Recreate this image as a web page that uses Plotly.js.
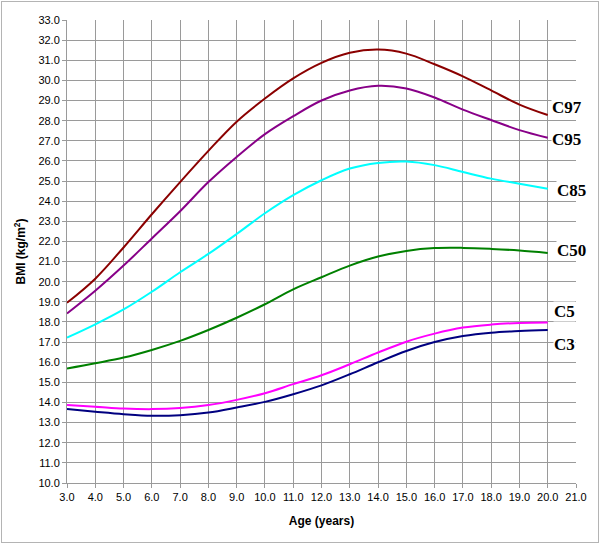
<!DOCTYPE html>
<html>
<head>
<meta charset="utf-8">
<script src="https://cdn.plot.ly/plotly-3.0.1.min.js"></script>
<style>
  body { margin: 0; background: #fff; }
  #wrap { position: relative; width: 600px; height: 544px; }
  #chart { width: 600px; height: 544px; }
  #frame { position: absolute; left: 1px; top: 1px; width: 596px; height: 540px;
           border: 1px solid #b4b4b4; pointer-events: none; }
</style>
</head>
<body>
<div id="wrap">
  <div id="chart"></div>
  <div id="frame"></div>
</div>
<script>
// ages 3..20 in whole years
const ages = [3, 4, 5, 6, 7, 8, 9, 10, 11, 12, 13, 14, 15, 16, 17, 18, 19, 20];

// BMI centiles
const c97 = [18.95, 20.15, 21.7, 23.35, 24.95, 26.5, 27.95, 29.1, 30.1, 30.87, 31.37, 31.53, 31.33, 30.8, 30.2, 29.5, 28.8, 28.28];
const c95 = [18.42, 19.55, 20.8, 22.15, 23.5, 24.95, 26.2, 27.33, 28.22, 29.0, 29.5, 29.73, 29.6, 29.15, 28.55, 28.03, 27.53, 27.15];
const c85 = [17.22, 17.88, 18.62, 19.5, 20.47, 21.38, 22.37, 23.4, 24.3, 25.04, 25.62, 25.9, 25.97, 25.79, 25.45, 25.12, 24.87, 24.62];
const c50 = [15.69, 15.95, 16.23, 16.61, 17.06, 17.6, 18.21, 18.88, 19.62, 20.22, 20.8, 21.25, 21.53, 21.67, 21.68, 21.63, 21.55, 21.43];
const c5  = [13.87, 13.79, 13.7, 13.67, 13.72, 13.87, 14.13, 14.46, 14.91, 15.35, 15.9, 16.48, 17.02, 17.42, 17.72, 17.87, 17.95, 17.97];
const c3  = [13.67, 13.54, 13.42, 13.34, 13.37, 13.5, 13.75, 14.03, 14.41, 14.85, 15.4, 16.0, 16.56, 17.0, 17.3, 17.47, 17.55, 17.6];

const names  = ['C97', 'C95', 'C85', 'C50', 'C5', 'C3'];
const colors = ['#8b0000', '#880088', '#00ffff', '#008000', '#ff00ff', '#000080'];

// label positions (age, bmi) at the right-hand end of each curve
const labelX = [20.13, 20.13, 20.3, 20.3, 20.2, 20.2];
const labelY = [28.64, 27.04, 24.52, 21.57, 18.52, 16.86];

const series = [c97, c95, c85, c50, c5, c3];

const traces = series.map((s, i) => ({
    x: ages,
    y: s,
    type: 'scatter',
    mode: 'lines',
    line: { color: colors[i], width: 2, shape: 'spline', smoothing: 1 },
    name: names[i],
    hoverinfo: 'x+y+name'
}));

const annotations = names.map((n, i) => ({
    x: labelX[i],
    y: labelY[i],
    xref: 'x',
    yref: 'y',
    text: '<b>' + n + '</b>',
    showarrow: false,
    xanchor: 'left',
    yanchor: 'middle',
    bgcolor: '#ffffff',
    borderpad: 0,
    font: { family: 'Liberation Serif, Times New Roman, serif', size: 17, color: '#000' }
}));

const gridCol = '#9a9a9a';

Plotly.newPlot('chart', traces, {
    width: 600,
    height: 544,
    margin: { l: 67, r: 24, t: 20, b: 61 },
    paper_bgcolor: 'rgba(0,0,0,0)',
    plot_bgcolor: '#fff',
    showlegend: false,
    font: { family: 'Liberation Sans, Arial, sans-serif', size: 11, color: '#000' },
    xaxis: {
        range: [3, 21],
        dtick: 1,
        tick0: 3,
        tickformat: '.1f',
        showgrid: true,
        gridcolor: gridCol,
        gridwidth: 1,
        zeroline: false,
        showline: true,
        linecolor: gridCol,
        ticks: 'outside',
        ticklen: 4,
        tickcolor: gridCol,
        title: { text: '<b>Age (years)</b>', font: { size: 12 }, standoff: 14 }
    },
    yaxis: {
        range: [10, 33],
        dtick: 1,
        tick0: 10,
        tickformat: '.1f',
        showgrid: true,
        gridcolor: gridCol,
        gridwidth: 1,
        zeroline: false,
        showline: true,
        linecolor: gridCol,
        ticks: 'outside',
        ticklen: 4,
        tickcolor: gridCol,
        title: { text: '<b>BMI (kg/m<sup>2</sup>)</b>', font: { size: 12 }, standoff: 10 }
    },
    annotations: annotations
}, { displayModeBar: false, staticPlot: true });
</script>
</body>
</html>
